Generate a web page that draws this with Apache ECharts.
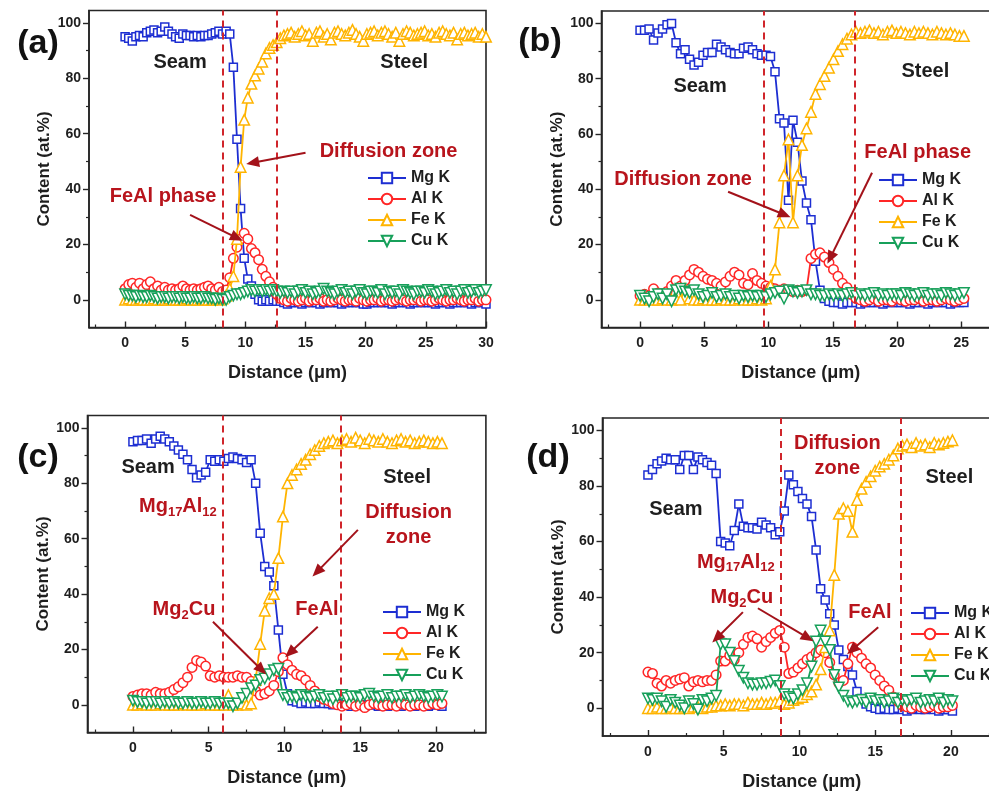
<!DOCTYPE html>
<html><head><meta charset="utf-8">
<script src="https://cdn.jsdelivr.net/npm/echarts@6/dist/echarts.min.js"></script>
<style>html,body{margin:0;padding:0;background:#fff}#c{width:989px;height:793px}</style>
</head><body><div id="c"></div><script>
// ---------------- DATA ----------------
const distA=[0,0.3,0.6,0.9,1.2,1.5,1.8,2.1,2.4,2.7,
3,3.3,3.6,3.9,4.2,4.5,4.8,5.1,5.4,5.7,
6,6.3,6.6,6.9,7.2,7.5,7.8,8.1,8.4,8.7,
9,9.3,9.6,9.9,10.2,10.5,10.8,11.1,11.4,11.7,
12,12.3,12.6,12.9,13.2,13.5,13.8,14.1,14.4,14.7,
15,15.3,15.6,15.9,16.2,16.5,16.8,17.1,17.4,17.7,
18,18.3,18.6,18.9,19.2,19.5,19.8,20.1,20.4,20.7,
21,21.3,21.6,21.9,22.2,22.5,22.8,23.1,23.4,23.7,
24,24.3,24.6,24.9,25.2,25.5,25.8,26.1,26.4,26.7,
27,27.3,27.6,27.9,28.2,28.5,28.8,29.1,29.4,29.7,
30];
const mgA=[95,94.5,93.5,95,95.5,95,96.5,97,97.5,96.5,
97,98.5,97,96,95,94.5,96,95.5,95.5,95,
95.5,95,95.5,95.5,96,96.5,97,96,97,96,
84,58,33,15,7.5,5,2,0,-0.5,0,
-0.5,0,-0.5,-0.5,-1,-1.5,-1,-1,-1,-1.5,
-1,-1,-1,-1,-1.5,-1,-1,-1,-1,-1,
-1.5,-1,-1,-1,-1,-1,-1.5,-1.5,-1,-1,
-1,-1,-1,-1,-1.5,-1,-1,-1,-1,-1.5,
-1,-1,-1,-1,-1,-1,-1.5,-1,-1,-1,
-1.5,-1,-1,-1,-1,-1,-1.5,-1,-1,-1,
-1.5];
const alA=[4,5.5,6,4.5,6,4,5.5,6.5,4,5,
3.5,4.5,3.5,4,3.5,4,5,4,3.5,4,
3.5,4,4.5,5,4,3.5,4.5,3,3.5,8,
15,19,22,24,22,18.5,17,14.5,11,8.5,
6.5,4.5,2,0.5,0,-0.5,0.5,0,-0.5,0,
0.5,-0.5,0,0,0.5,-0.5,0,-0.5,0,0.5,
0,-0.5,0,0,-0.5,0.5,0,-0.5,0,0,
0.5,-0.5,0,0,-0.5,0,0.5,0,-0.5,0,
0,0.5,-0.5,0,0,-0.5,0,0.5,0,-0.5,
0,0,0.5,0,-0.5,0,0,0.5,-0.5,0,
0];
const feA=[0,0.5,0,0,0.5,0,0,0,0.5,0,
0,0,0.5,0,0,0,0,0.5,0,0,
0,0.5,0,0,0,0.5,0,0.5,1.5,4,
8.5,22,48,65,73,78,81,83.5,86,89,
91,92,93,94.5,95.5,96,96.5,95,96,97,
95.5,96,93.5,96.5,97,95,96,94,96.5,97,
96,95.5,96.5,97.5,96,95,93.5,96,96.5,97,
95.5,96.5,97,96,95,96.5,93.5,96,97,96.5,
95.5,96,96.5,97,95.5,96,95,96.5,97,96,
95.5,96.5,94,96,96.5,95.5,96,96.5,95,96,
95];
const cuA=[2,1.5,1.5,1,1.5,1,1,1.5,1,0.5,
1,1,0.5,1,1,0.5,1,0.5,0.5,1,
0.5,0.5,1,0.5,0.5,0,0.5,0,0,1,
1.5,2,2,2.5,3,3.5,3,3.5,3,3.5,
3,3.5,3,2.5,3,2.5,3,2,3,3.5,
2.5,3,2,2.5,3,4,3,2.5,2,3,
3.5,2.5,3,2,3,3.5,2.5,2,3,3,
2.5,3.5,2,3,2.5,3,2,3.5,3,2.5,
2,3,3,2.5,3.5,3,2,2.5,3,3.5,
2.5,3,2,3,3.5,2.5,3,3.5,2.5,3,
3.5];

const distB=[0,0.35,0.7,1.05,1.4,1.75,2.1,2.45,2.8,3.15,
3.5,3.85,4.2,4.55,4.9,5.25,5.6,5.95,6.3,6.65,
7,7.35,7.7,8.05,8.4,8.75,9.1,9.45,9.8,10.15,
10.5,10.85,11.2,11.55,11.9,12.25,12.6,12.95,13.3,13.65,
14,14.35,14.7,15.05,15.4,15.75,16.1,16.45,16.8,17.15,
17.5,17.85,18.2,18.55,18.9,19.25,19.6,19.95,20.3,20.65,
21,21.35,21.7,22.05,22.4,22.75,23.1,23.45,23.8,24.15,
24.5,24.85,25.2];
const mgB=[97.5,97.5,98,94,96.5,98,99.5,100,93,89,
90.5,87,85,86,88.5,89.5,89.5,92.5,91.5,90.5,
89.5,89,89,91,91.5,90.5,89,88.5,88.5,88,
82.5,65.5,64,36,65,57,43,35,29,14,
3.5,0.5,-0.5,-1,-1,-1.5,-1,-1,-1,-1.5,
-1,-1,-1,-1,-1.5,-1,-1,-1,-1,-1,
-1.5,-1,-1,-1,-1.5,-1,-1,-1,-1,-1.5,
-1,-1,-1];
const alB=[1.5,2,1.5,4,2.5,2,3,5,7,5,
7,9,11,10,8.5,7.5,7,6,5,6.5,
8.5,10,9,6,5.5,9.5,7,6,5,4.5,
4,3.5,4,3.5,3,3.5,3,3.5,15,16.5,
17,15.5,13.5,11,8.5,6,4.5,2,0.5,0,
-0.5,0,0.5,-0.5,0,0,-0.5,0.5,0,-0.5,
0,0,0.5,-0.5,0,0,-0.5,0,0.5,0,
-0.5,0,0.5];
const feB=[0,0,0.5,0,0,0.5,0,0,0.5,0,
4,0.5,0,0,0.5,0,0,0,0.5,0,
0,0,0.5,0,0,0,0.5,0,0.5,5,
11,28,45,58,28,45,56,62,68,74.5,
78,81,84,87,90,92.5,94.5,96,97,96.5,
97,97.5,96.5,97,96,97,97.5,96.5,97,96.5,
96,97,96.5,97,96.5,96,97,96.5,96,96.5,
96,95.5,95.5];
const cuB=[1.5,0.5,-0.5,1,2,0.5,2,-0.5,3.5,4,
3,2.5,3.5,2,1,1.5,2.5,1,1.5,2,
1,1.5,0.5,1.5,1,1.5,1,1.5,1,2,
2.5,3,0.5,3.5,3,2.5,3,3.5,2,2,
1.5,1.5,2,1.5,2,1.5,2,2.5,1.5,2,
1.5,2,2.5,1.5,2,1.5,2,2,1.5,2.5,
2,1.5,2,2.5,1.5,2,2,1.5,2.5,2,
1.5,2,2.5];

const distC=distA.slice(0,69);
const mgC=[95,95.5,95.5,96,94.5,96,97,96,95,93.5,
92,90.5,88.5,85,82,83,84,88.5,88,88.5,
88,89,89.5,89,88.5,87.5,88.5,80,62,50,
48,43,27,11,4,1.5,1,0.5,1,0.5,
0.5,1,0.5,0.5,0,0.5,0,0,-0.5,0,
0,-0.5,0,0,-0.5,0,-0.5,0,0,-0.5,
0,0,-0.5,0,0,-0.5,0,0,-0.5];
const alC=[3,3.5,4,4,3.5,4.5,4,4,4.5,5.5,
6.5,8,10,13.5,16,15.5,14,10.5,10,10.5,
10,10,10,10.5,10,10,8.5,5,3.5,4,
5,7,12,17,14.5,12.5,11,10.5,9,7,
5,3,2,1.5,0.5,0,-0.5,0,0.5,-0.5,
0,-1,0,0.5,0,-0.5,0,0,-0.5,0.5,
0,-0.5,0,0,-0.5,0,0.5,0,0.5];
const feC=[0,0,0.5,0,0,0,0.5,0,0,0,
0,0.5,0,0,0,0,0.5,0,0,0,
0,3.5,0,0,0.5,0,0.5,9,22,34,
38.5,40,53,68,80,83,85,87,88.5,90.5,
92,93.5,94.5,95,95.5,94.5,95.5,96,95,96.5,
95.5,94.5,96,95.5,95,96,95,94.5,95.5,96,
95,95.5,94.5,95,95.5,95,94.5,95,94.5];
const cuC=[1.5,1,1,0.5,1,1,0.5,1,0.5,1,
0.5,0.5,1,0.5,0.5,1,0.5,0.5,1,0.5,
0.5,0.5,-0.5,0.5,2.5,4,6,7,9,9.5,
11,12.5,13,3.5,2.5,3,2.5,3.5,3,2.5,
3,3.5,2.5,3,2,3,3.5,2.5,3,3,
2.5,3.5,4,3,2.5,3,3.5,2.5,3,3,
3.5,2.5,3,3.5,3,2.5,3,3.5,3];

const distD=distA.slice(0,68);
const mgD=[84,86,88,89,90,89.5,89.5,86,91,91,
86,90.5,89.5,88.5,87.5,84.5,60,59.5,58.5,64,
73.5,65.5,65,65,64.5,67,66,65,62.5,63.5,
71,84,80.5,78,75.5,73.5,69,57,43,39,
34,30,21,17.5,15,12,6,3.5,1.5,0.5,
0,-0.5,0,-0.5,-0.5,0,-0.5,-1,-0.5,0,
-0.5,-0.5,0,-0.5,-1,-0.5,-0.5,-1];
const alD=[13,12.5,9,8,10,9,10,10.5,11,8,
9.5,10,9.5,10,10,12,17,17,19,17.5,
20,23,25.5,26,25,22,24,25.5,27,28,
22,12.5,13,14.5,16,17.5,18.5,20,21,20,
16.5,12,9,10,16,22,20,18,16,14.5,
12,10,8,6.5,4,2.5,1,0.5,0,1,
0.5,0,0.5,1,0,0.5,0.5,1];
const feD=[0,0,0.5,0,0,0.5,0,0,0.5,0,
0.5,0.5,0,0.5,0.5,1,1,1.5,1,1.5,
1.5,1,2,1.5,1.5,2,1.5,2,2,2.5,
1.5,2,3,3.5,4,5,6,8.5,14,22,
28,48,70,72,71,63.5,75,79,81.5,83.5,
85.5,87,88,89.5,91,93.5,94.5,95,94,95.5,
94.5,95,94,95.5,95,95.5,96,96.5];
const cuD=[3.5,3,3.5,2.5,0.5,3,2,1,0,2.5,
1.5,-0.5,3,2.5,3.5,4.5,23,23,20,17,
13.5,11,9,8.5,8.5,9,9,9.5,10,8,
5,4,3.5,5,6.5,9,15,24,28,24,
21,12,7.5,4.5,2.5,2,2.5,3,2,3.5,
2.5,3,2,2.5,3.5,2,3,2.5,3,3.5,
2,2.5,3,2.5,3.5,2,3,2.5];

// tick labels
const yMajor=[0,20,40,60,80,100];
const yMinor=[10,30,50,70,90];
const xMajorA=[0,5,10,15,20,25,30], xMinorA=[-2.5,2.5,7.5,12.5,17.5,22.5,27.5];
const xMajorB=[0,5,10,15,20,25], xMinorB=[-2.5,2.5,7.5,12.5,17.5,22.5,27.5];
const xMajorC=[0,5,10,15,20], xMinorC=[-2.5,2.5,7.5,12.5,17.5,22.5];
// boundary lines (dashed) positions
const dashA=[8.15,12.6], dashB=[9.6,16.7], dashC=[5.9,13.7], dashD=[8.8,16.7];
const seriesNames=['Mg K','Al K','Fe K','Cu K'];

// ---------------- STYLE ----------------
const FONT='"Liberation Sans", Arial, Helvetica, sans-serif';
const AX='#262626', TXT='#1e1e1e', RED='#b8141c', ARROW='#a3121a', DASH='#d0252b';
const SER=[
 {name:'Mg K', color:'#1d2ed2', symbol:'rect', size:8, rot:0},
 {name:'Al K', color:'#ff2626', symbol:'circle', size:9.5, rot:0},
 {name:'Fe K', color:'#ffb400', symbol:'triangle', size:10.5, rot:0},
 {name:'Cu K', color:'#17a05a', symbol:'triangle', size:10.5, rot:180}
];
const SUB='{a|Mg}{s|17}{a|Al}{s|12}';
const panels=[
 {letter:'(a)', lp:[38,44], grid:{left:89,top:10.5,width:397,height:317}, xr:[-3,30], xMajor:xMajorA, xMinor:xMinorA,
  dist:distA, vals:[mgA,alA,feA,cuA], dash:dashA, legend:{left:367,top:170},
  arrows:[[[15.0,53.1],[10.6,49.5]],[[5.4,30.7],[9.3,22.4]]],
  notes:[{t:'Seam',x:4.57,y:85.6,c:TXT},{t:'Steel',x:23.2,y:85.6,c:TXT},{t:'Diffusion zone',x:21.9,y:53.4,c:RED},{t:'FeAl phase',x:3.16,y:37.2,c:RED}]},
 {letter:'(b)', lp:[540,42], grid:{left:601.5,top:11,width:398.4,height:316.5}, xr:[-3,28], xMajor:xMajorB, xMinor:xMinorB,
  dist:distB, vals:[mgB,alB,feB,cuB], dash:dashB, legend:{left:878,top:172},
  arrows:[[[6.85,39.1],[11.25,30.8]],[[18.05,46],[14.8,15.2]]],
  notes:[{t:'Seam',x:4.67,y:77.2,c:TXT},{t:'Steel',x:22.2,y:82.6,c:TXT},{t:'Diffusion zone',x:3.35,y:43.5,c:RED},{t:'FeAl phase',x:21.6,y:53.3,c:RED}]},
 {letter:'(c)', lp:[38,458], grid:{left:87.5,top:415.5,width:398.4,height:317}, xr:[-3,23.3], xMajor:xMajorC, xMinor:xMinorC,
  dist:distC, vals:[mgC,alC,feC,cuC], dash:dashC, legend:{left:382,top:604},
  arrows:[[[5.28,30],[8.5,12.6]],[[14.85,63.2],[12.15,48]],[[12.2,28.2],[10.36,18.8]]],
  notes:[{t:'Seam',x:1.0,y:85.6,c:TXT},{t:'Steel',x:18.1,y:82,c:TXT},{t:SUB,x:2.97,y:71.5,c:RED,rich:true},{t:'{a|Mg}{s|2}{a|Cu}',x:3.37,y:34.3,c:RED,rich:true},{t:'Diffusion\nzone',x:18.2,y:65,c:RED},{t:'FeAl',x:12.15,y:34.3,c:RED}]},
 {letter:'(d)', lp:[548,458], grid:{left:602.5,top:418,width:398.4,height:318}, xr:[-3,23.3], xMajor:xMajorC, xMinor:xMinorC,
  dist:distD, vals:[mgD,alD,feD,cuD], dash:dashD, legend:{left:910,top:605},
  arrows:[[[6.27,34.6],[4.55,25.3]],[[7.26,36],[10.56,25.3]],[[15.2,29.2],[13.47,21]]],
  notes:[{t:'Seam',x:1.85,y:71.7,c:TXT},{t:'Steel',x:19.9,y:83.2,c:TXT},{t:SUB,x:5.8,y:52.6,c:RED,rich:true},{t:'{a|Mg}{s|2}{a|Cu}',x:6.2,y:39.7,c:RED,rich:true},{t:'Diffusion\nzone',x:12.5,y:91,c:RED},{t:'FeAl',x:14.65,y:34.6,c:RED}]}
];

panels.forEach(p=>p.vals.forEach((v,j)=>{ if(v.length!==p.dist.length) throw new Error(p.letter+' series '+j+' length '+v.length+' vs '+p.dist.length); }));

const chart=echarts.init(document.getElementById('c'),null,{renderer:'canvas'});
const grids=[],xAxes=[],yAxes=[],series=[],legends=[];
const lbl={fontFamily:FONT,fontWeight:'bold',fontSize:14,color:TXT};
panels.forEach((p,k)=>{
  grids.push(Object.assign({show:true,borderColor:AX,borderWidth:1.6,backgroundColor:'rgba(0,0,0,0)',containLabel:false,outerBoundsMode:'none'},p.grid));
  xAxes.push({gridIndex:k,type:'value',position:'bottom',min:p.xr[0],max:p.xr[1],
    name:'Distance (μm)',nameLocation:'middle',nameGap:37,nameTextStyle:{fontFamily:FONT,fontWeight:'bold',fontSize:18,color:TXT},
    axisLine:{show:true,onZero:false,lineStyle:{color:AX,width:1.6}},
    axisTick:{show:true,inside:true,length:6,customValues:p.xMajor,lineStyle:{color:AX,width:1.4}},
    axisLabel:Object.assign({show:true,customValues:p.xMajor,margin:9},lbl),
    splitLine:{show:false},minorTick:{show:false}});
  xAxes.push({gridIndex:k,type:'value',position:'bottom',min:p.xr[0],max:p.xr[1],
    axisLine:{show:false,onZero:false},axisTick:{show:true,inside:true,length:3,customValues:p.xMinor,lineStyle:{color:AX,width:1.2}},
    axisLabel:{show:false},splitLine:{show:false}});
  yAxes.push({gridIndex:k,type:'value',position:'left',min:-10,max:104.5,
    name:'Content (at.%)',nameLocation:'middle',nameGap:36,nameTextStyle:{fontFamily:FONT,fontWeight:'bold',fontSize:17,color:TXT},
    axisLine:{show:true,onZero:false,lineStyle:{color:AX,width:1.6}},
    axisTick:{show:true,inside:false,length:6,customValues:yMajor,lineStyle:{color:AX,width:1.4}},
    axisLabel:Object.assign({show:true,customValues:yMajor,margin:8},lbl),
    splitLine:{show:false}});
  yAxes.push({gridIndex:k,type:'value',position:'left',min:-10,max:104.5,
    axisLine:{show:false,onZero:false},axisTick:{show:true,inside:false,length:3,customValues:yMinor,lineStyle:{color:AX,width:1.2}},
    axisLabel:{show:false},splitLine:{show:false}});
  SER.forEach((s,j)=>{
    const ser={type:'line',name:s.name,xAxisIndex:2*k,yAxisIndex:2*k,
      data:p.dist.map((d,i)=>[d,p.vals[j][i]]),
      symbol:s.symbol,symbolSize:s.size,symbolRotate:s.rot,showAllSymbol:true,
      itemStyle:{color:'#fff',borderColor:s.color,borderWidth:1.5},
      lineStyle:{color:s.color,width:1.8},emphasis:{disabled:true},z:2+j};
    if(j===0){
      const ml=p.dash.map(v=>({xAxis:v,lineStyle:{type:[7,5],color:DASH,width:2}}));
      p.arrows.forEach(a=>ml.push([
        {coord:a[0],symbol:'none',lineStyle:{color:ARROW,width:2,type:'solid'}},
        {coord:a[1],symbol:'triangle',symbolSize:[11,13],lineStyle:{color:ARROW,width:2,type:'solid'}}]));
      ser.markLine={silent:true,symbol:['none','none'],label:{show:false},emphasis:{disabled:true},animation:false,data:ml,z:10};
    }
    series.push(ser);
  });
  legends.push({left:p.legend.left,top:p.legend.top,orient:'vertical',data:seriesNames,itemWidth:38,itemHeight:13,itemGap:5,padding:0,
    selectedMode:false,textStyle:{fontFamily:FONT,fontWeight:'bold',fontSize:16,color:TXT}});
});
chart.setOption({backgroundColor:'#fff',animation:false,grid:grids,xAxis:xAxes,yAxis:yAxes,legend:legends,series:series});

const g=[];
const richSt=c=>({a:{fontFamily:FONT,fontWeight:'bold',fontSize:20,fill:c,lineHeight:24},s:{fontFamily:FONT,fontWeight:'bold',fontSize:13,fill:c,lineHeight:13,verticalAlign:'bottom'}});
panels.forEach((p,k)=>{
  p.notes.forEach(n=>{
    const pt=chart.convertToPixel({seriesIndex:k*4},[n.x,n.y]);
    const st={text:n.t,fill:n.c,font:'bold 20px '+FONT,align:'center',verticalAlign:'middle',lineHeight:25};
    if(n.rich) st.rich=richSt(n.c);
    g.push({type:'text',x:pt[0],y:pt[1],z:20,style:st});
  });
  g.push({type:'text',x:p.lp[0],y:p.lp[1],z:20,style:{text:p.letter,fill:'#111',font:'bold 34px '+FONT,align:'center',verticalAlign:'middle'}});
});
chart.setOption({graphic:g});
</script></body></html>
